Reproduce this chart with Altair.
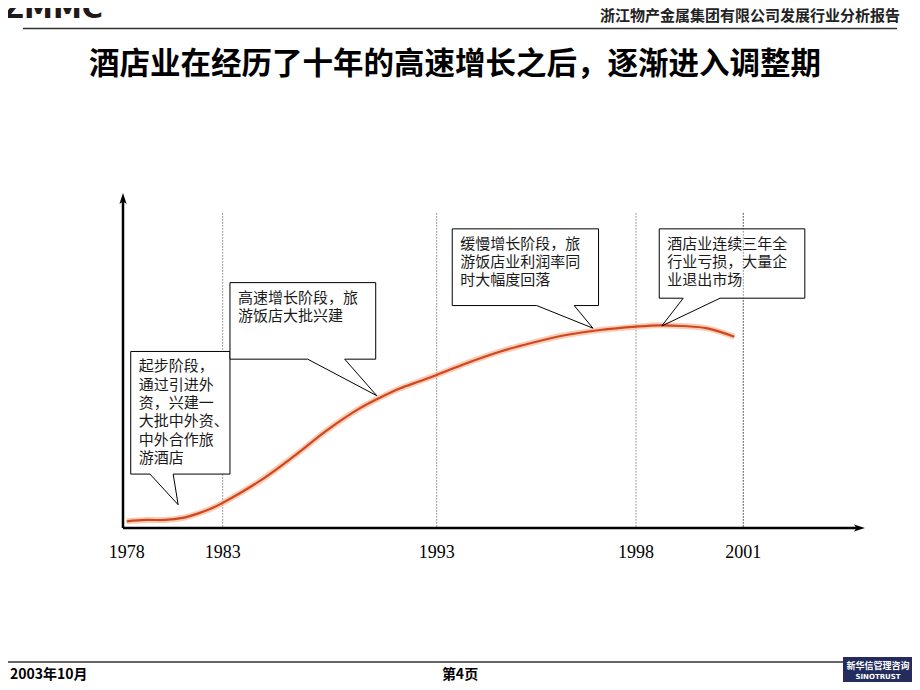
import altair as alt
import pandas as pd

# ---------------- data ----------------
curve_years = [1978.0, 1979.0, 1980.0, 1980.9, 1981.7, 1982.4, 1983.0, 1984.7, 1986.3,
               1987.9, 1989.4, 1990.35, 1991.3, 1992.2, 1993.0, 1993.75, 1994.6, 1995.4,
               1996.25, 1997.1, 1998.0, 1998.65, 1999.3, 2000.0, 2000.75]
curve_values = [2.0, 2.4, 2.4, 3.0, 4.3, 5.8, 7.5, 13.9, 21.3,
                29.3, 35.7, 38.9, 41.7, 43.8, 45.7, 49.2, 52.7, 55.3,
                57.6, 59.1, 60.1, 60.5, 60.3, 59.6, 57.1]

label_years = [1978, 1983, 1993, 1998, 2001]
divider_years = [1983, 1993, 1998, 2001]
divider_top = 93.9

box_texts = [
    "起步阶段，\n通过引进外\n资，兴建一\n大批中外资、\n中外合作旅\n游酒店",
    "高速增长阶段，旅\n游饭店大批兴建",
    "缓慢增长阶段，旅\n游饭店业利润率同\n时大幅度回落",
    "酒店业连续三年全\n行业亏损，大量企\n业退出市场",
]
box_left = [1978.21, 1983.34, 1993.39, 1998.65]
box_right = [1983.34, 1990.15, 1997.06, 2002.72]
box_top = [52.7, 73.25, 89.3, 89.3]
box_bottom = [16.1, 50.4, 66.4, 68.6]
ptr_left = [1979.21, 1986.97, 1995.51, 1999.32]
ptr_right = [1980.42, 1988.7, 1996.45, 2000.35]
ptr_tip_x = [1980.68, 1990.2, 1996.92, 1998.72]
ptr_tip_y = [6.95, 39.5, 59.65, 60.3]

title_text = "酒店业在经历了十年的高速增长之后，逐渐进入调整期"
header_text = "浙江物产金属集团有限公司发展行业分析报告"
logo_text = "ZMMC"
footer_date = "2003年10月"
footer_page = "第4页"
badge_cn = "新华信管理咨询"
badge_en = "SINOTRUST"

# ---------------- tables ----------------
curve_df = pd.DataFrame({"year": curve_years, "value": curve_values})
labels_df = pd.DataFrame({"year": label_years, "label": [str(y) for y in label_years]})
div_df = pd.DataFrame({"year": divider_years, "top": [divider_top] * len(divider_years)})
box_df = pd.DataFrame({"id": range(4), "x0": box_left, "x1": box_right,
                       "y0": box_top, "y1": box_bottom, "text": box_texts})
gap_df = pd.DataFrame({"id": range(4), "xa": ptr_left, "xb": ptr_right, "y": box_bottom})
ptr_rows = []
for i in range(4):
    ptr_rows.append({"id": i, "seq": 0, "x": ptr_left[i], "y": box_bottom[i]})
    ptr_rows.append({"id": i, "seq": 1, "x": ptr_tip_x[i], "y": ptr_tip_y[i]})
    ptr_rows.append({"id": i, "seq": 2, "x": ptr_right[i], "y": box_bottom[i]})
ptr_df = pd.DataFrame(ptr_rows)

W, H = 742, 335
xs = alt.Scale(domain=[1978, 1983, 1993, 1998, 2001],
               range=[3.7, 99.7, 313.7, 513, 620.3], zero=False, nice=False)
ys = alt.Scale(domain=[0, 100], zero=False, nice=False)

CJK = "Noto Sans CJK SC"

def one(text):
    return pd.DataFrame({"t": [text]})

# axes
y_axis = alt.Chart(one("")).mark_rule(color="black", strokeWidth=2.5).encode(
    x=alt.value(0), y=alt.value(6), y2=alt.value(H))
x_axis = alt.Chart(one("")).mark_rule(color="black", strokeWidth=2.5).encode(
    x=alt.value(0), x2=alt.value(W - 6), y=alt.value(H))
up_arrow = alt.Chart(one("")).mark_point(
    shape="M0,-1L0.6,0.85L0,0.4L-0.6,0.85Z", filled=True, color="black", opacity=1, size=144
).encode(x=alt.value(0), y=alt.value(6))
right_arrow = alt.Chart(one("")).mark_point(
    shape="M1,0L-0.85,0.6L-0.4,0L-0.85,-0.6Z", filled=True, color="black", opacity=1, size=144
).encode(x=alt.value(W - 6), y=alt.value(H))

dividers = alt.Chart(div_df).mark_rule(color="#444444", strokeWidth=1, strokeDash=[1, 2]).encode(
    x=alt.X("year:Q", scale=xs, axis=None),
    y=alt.Y("top:Q", scale=ys, axis=None),
    y2=alt.datum(0))
dividers_over = dividers.transform_filter(alt.datum.year == 2001)

glow = alt.Chart(curve_df).mark_line(color="#F6A47C", strokeWidth=6, opacity=0.55,
                                     interpolate="catmull-rom").encode(
    x=alt.X("year:Q", scale=xs, axis=None), y=alt.Y("value:Q", scale=ys, axis=None))
core = alt.Chart(curve_df).mark_line(color="#D0461E", strokeWidth=2.2,
                                     interpolate="catmull-rom").encode(
    x=alt.X("year:Q", scale=xs, axis=None), y=alt.Y("value:Q", scale=ys, axis=None))

year_labels = alt.Chart(labels_df).mark_text(font="Liberation Serif", fontSize=18,
                                             color="black", baseline="middle").encode(
    x=alt.X("year:Q", scale=xs, axis=None), y=alt.value(360), text="label:N")

boxes = alt.Chart(box_df).mark_rect(fill="white", stroke="black", strokeWidth=1).encode(
    x=alt.X("x0:Q", scale=xs, axis=None), x2="x1:Q",
    y=alt.Y("y0:Q", scale=ys, axis=None), y2="y1:Q")
gaps = alt.Chart(gap_df).mark_rule(color="white", strokeWidth=2.5).encode(
    x=alt.X("xa:Q", scale=xs, axis=None), x2="xb:Q",
    y=alt.Y("y:Q", scale=ys, axis=None))
pointers = alt.Chart(ptr_df).mark_line(color="black", strokeWidth=1).encode(
    x=alt.X("x:Q", scale=xs, axis=None), y=alt.Y("y:Q", scale=ys, axis=None),
    detail="id:N", order="seq:Q")
box_text = alt.Chart(box_df).mark_text(font=CJK, fontSize=15, color="#1a1a1a", align="left",
                                       baseline="top", lineBreak="\n", lineHeight=18.3,
                                       dx=8, dy=8).encode(
    x=alt.X("x0:Q", scale=xs, axis=None), y=alt.Y("y0:Q", scale=ys, axis=None), text="text:N")

# slide decorations
logo = alt.Chart(one(logo_text)).mark_text(font="DejaVu Sans", fontWeight="bold", fontSize=29,
                                           color="#231818", align="left", baseline="alphabetic").encode(
    x=alt.value(-120), y=alt.value(-175), text="t:N")
header = alt.Chart(one(header_text)).mark_text(font=CJK, fontWeight="bold", fontSize=15,
                                               color="#222222", align="right", baseline="middle").encode(
    x=alt.value(777), y=alt.value(-177), text="t:N")
header_line = alt.Chart(one("")).mark_rule(color="#333333", strokeWidth=1.5).encode(
    x=alt.value(-100), x2=alt.value(774), y=alt.value(-164.5))
title = alt.Chart(one(title_text)).mark_text(font=CJK, fontWeight="bold", fontSize=30.5,
                                             color="black", align="center", baseline="middle").encode(
    x=alt.value(332), y=alt.value(-128), text="t:N")
footer_line = alt.Chart(one("")).mark_rule(color="#333333", strokeWidth=1.5).encode(
    x=alt.value(-115), x2=alt.value(720), y=alt.value(469))
footer_d = alt.Chart(one(footer_date)).mark_text(font=CJK, fontWeight="bold", fontSize=14,
                                                 color="black", align="left", baseline="middle").encode(
    x=alt.value(-113), y=alt.value(482), text="t:N")
footer_p = alt.Chart(one(footer_page)).mark_text(font=CJK, fontWeight="bold", fontSize=14,
                                                 color="black", align="center", baseline="middle").encode(
    x=alt.value(337), y=alt.value(482), text="t:N")
badge = alt.Chart(one("")).mark_rect(color="#232c5c").encode(
    x=alt.value(720), x2=alt.value(794), y=alt.value(464), y2=alt.value(497))
badge_t1 = alt.Chart(one(badge_cn)).mark_text(font=CJK, fontWeight="bold", fontSize=9,
                                              color="white", align="center", baseline="middle").encode(
    x=alt.value(755), y=alt.value(473), text="t:N")
badge_t2 = alt.Chart(one(badge_en)).mark_text(font="DejaVu Sans", fontWeight="bold", fontSize=7,
                                              color="white", align="center", baseline="middle").encode(
    x=alt.value(755), y=alt.value(484), text="t:N")

chart = alt.layer(
    dividers, glow, core, boxes, gaps, pointers, box_text, dividers_over,
    y_axis, x_axis, up_arrow, right_arrow, year_labels,
    logo, header, header_line, title, footer_line, footer_d, footer_p,
    badge, badge_t1, badge_t2,
).properties(
    width=W, height=H,
    autosize=alt.AutoSizeParams(type="none"),
    padding={"left": 115, "top": 185, "right": 47, "bottom": 154},
    background="white",
).configure_view(strokeWidth=0)

chart.save("out.html", embed_options={"renderer": "svg", "actions": False})
